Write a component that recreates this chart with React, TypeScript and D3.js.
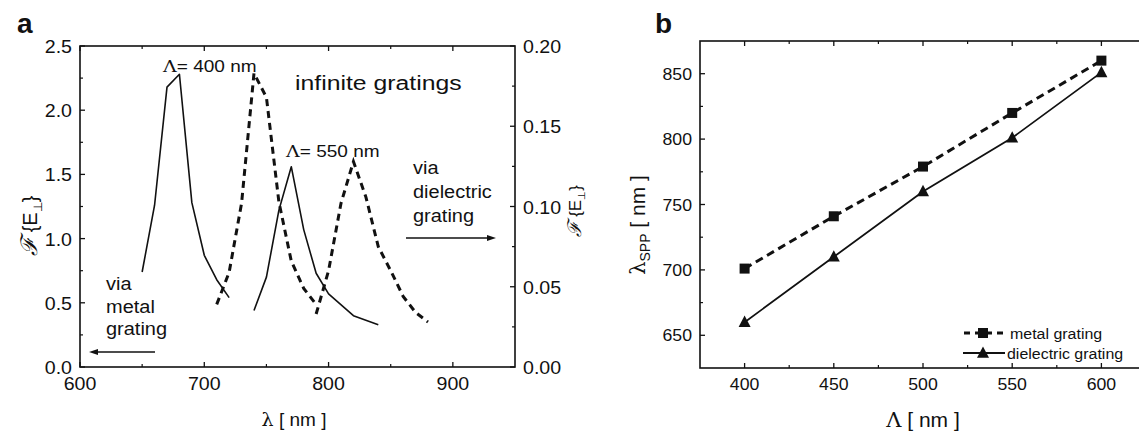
import React from "react";
import * as d3 from "d3";

// panel a: field enhancement spectra (wavelength in nm)
const metal400X = [650, 660, 670, 680, 690, 700, 710, 720];
const metal400Y = [0.74, 1.26, 2.18, 2.28, 1.28, 0.87, 0.68, 0.54];
const metal550X = [740, 750, 760, 770, 780, 790, 800, 820, 840];
const metal550Y = [0.44, 0.7, 1.22, 1.56, 1.07, 0.73, 0.57, 0.4, 0.33];
const diel400X = [710, 720, 730, 740, 750, 760, 770, 780, 790];
const diel400Y = [0.039, 0.059, 0.102, 0.183, 0.168, 0.103, 0.066, 0.049, 0.039];
const diel550X = [790, 800, 810, 820, 830, 840, 850, 860, 870, 880];
const diel550Y = [0.033, 0.06, 0.102, 0.128, 0.106, 0.075, 0.06, 0.044, 0.034, 0.028];

const aXTicks = [600, 700, 800, 900];
const aLeftTicks = [0, 0.5, 1, 1.5, 2, 2.5];
const aRightTicks = [0, 0.05, 0.1, 0.15, 0.2];

// panel b: SPP wavelength vs grating period
const periods = [400, 450, 500, 550, 600];
const metalSpp = [701, 741, 779, 820, 860];
const dielSpp = [660, 710, 760, 801, 851];
const bXTicks = [400, 450, 500, 550, 600];
const bYTicks = [650, 700, 750, 800, 850];

const FONT = "Liberation Sans, Arial, sans-serif";

function Txt({ x, y, size, anchor = "start", sx = 1, rotate = 0, weight = "normal", children }: any) {
  return (
    <text
      transform={`translate(${x},${y}) rotate(${rotate}) scale(${sx},1)`}
      fontSize={size}
      textAnchor={anchor}
      fontWeight={weight}
      fontFamily={FONT}
      fill="#111"
    >
      {children}
    </text>
  );
}

function Frame({ x0, x1, y0, y1 }: any) {
  return (
    <rect x={x0} y={y0} width={x1 - x0} height={y1 - y0} fill="none" stroke="#111" strokeWidth={1.6} />
  );
}

export default function App() {
  // ----- panel a -----
  const ax = d3.scaleLinear().domain([600, 950]).range([80, 515]);
  const ayL = d3.scaleLinear().domain([0, 2.5]).range([367, 46]);
  const ayR = d3.scaleLinear().domain([0, 0.2]).range([367, 46]);

  const pathOf = (xs: number[], ys: number[], yScale: any) =>
    d3
      .line<number>()
      .x((d) => ax(d))
      .y((d, i) => yScale(ys[i]))(xs) as string;

  const aMinorX = d3.range(650, 950, 100);
  const aMinorL = d3.range(0.25, 2.5, 0.5);
  const aMinorR = d3.range(0.025, 0.2, 0.05);

  // ----- panel b -----
  const bx = d3.scaleLinear().domain([375, 625]).range([700, 1146]);
  const by = d3.scaleLinear().domain([625, 875]).range([368, 41]);
  const bLine = (ys: number[]) =>
    d3
      .line<number>()
      .x((d) => bx(d))
      .y((d, i) => by(ys[i]))(periods) as string;
  const bMinorX = d3.range(425, 625, 50);
  const bMinorY = d3.range(675, 875, 50);

  const tri = (cx: number, cy: number, s: number) =>
    `M${cx},${cy - s * 0.55} L${cx + s / 2},${cy + s * 0.4} L${cx - s / 2},${cy + s * 0.4} Z`;

  const aTop = 46, aBot = 367, aL = 80, aR = 515;
  const bTop = 41, bBot = 368, bL = 700, bR = 1146;

  return (
    <svg width={1139} height={431} style={{ position: "absolute", left: 0, top: 0, background: "#fff" }}>
      <rect width={1139} height={431} fill="#fff" />
      {/* ================= panel a ================= */}
      <Txt x={17} y={33} size={28} weight="bold">a</Txt>
      <Frame x0={aL} x1={aR} y0={aTop} y1={aBot} />

      {/* x ticks bottom + top */}
      {aXTicks.map((t) => (
        <g key={"ax" + t}>
          <line x1={ax(t)} x2={ax(t)} y1={aBot} y2={aBot - 5} stroke="#111" strokeWidth={1.3} />
          <line x1={ax(t)} x2={ax(t)} y1={aTop} y2={aTop + 5} stroke="#111" strokeWidth={1.3} />
          <Txt x={ax(t)} y={390} size={18.5} anchor="middle" sx={1.06}>{t}</Txt>
        </g>
      ))}
      {aMinorX.map((t) => (
        <g key={"amx" + t}>
          <line x1={ax(t)} x2={ax(t)} y1={aBot} y2={aBot - 3} stroke="#111" strokeWidth={1.2} />
          <line x1={ax(t)} x2={ax(t)} y1={aTop} y2={aTop + 3} stroke="#111" strokeWidth={1.2} />
        </g>
      ))}
      {/* left axis */}
      {aLeftTicks.map((t) => (
        <g key={"al" + t}>
          <line x1={aL} x2={aL + 5} y1={ayL(t)} y2={ayL(t)} stroke="#111" strokeWidth={1.3} />
          <Txt x={72} y={ayL(t) + 7} size={18.5} anchor="end" sx={1.06}>{t.toFixed(1)}</Txt>
        </g>
      ))}
      {aMinorL.map((t) => (
        <line key={"aml" + t} x1={aL} x2={aL + 3} y1={ayL(t)} y2={ayL(t)} stroke="#111" strokeWidth={1.2} />
      ))}
      {/* right axis */}
      {aRightTicks.map((t) => (
        <g key={"ar" + t}>
          <line x1={aR} x2={aR - 5} y1={ayR(t)} y2={ayR(t)} stroke="#111" strokeWidth={1.3} />
          <Txt x={523} y={ayR(t) + 7} size={18.5} sx={1.06}>{t.toFixed(2)}</Txt>
        </g>
      ))}
      {aMinorR.map((t) => (
        <line key={"amr" + t} x1={aR} x2={aR - 3} y1={ayR(t)} y2={ayR(t)} stroke="#111" strokeWidth={1.2} />
      ))}

      {/* axis titles */}
      <Txt x={37} y={226} size={20} rotate={-90} anchor="middle">
        <tspan fontFamily="DejaVu Serif" fontStyle="italic" fontSize={23}>ℱ</tspan>
        <tspan dx={5}>{"{"}E</tspan>
        <tspan fontSize={12} dy={5}>⊥</tspan>
        <tspan dy={-5}>{"}"}</tspan>
      </Txt>
      <Txt x={581} y={211} size={17} rotate={-90} anchor="middle">
        <tspan fontFamily="DejaVu Serif" fontStyle="italic" fontSize={19}>ℱ</tspan>
        <tspan dx={4}>{"{"}E</tspan>
        <tspan fontSize={10} dy={4}>⊥</tspan>
        <tspan dy={-4}>{"}"}</tspan>
      </Txt>
      <Txt x={294} y={426} size={19} anchor="middle">
        <tspan fontFamily="DejaVu Serif">λ</tspan> [ nm ]
      </Txt>

      {/* curves */}
      <path d={pathOf(metal400X, metal400Y, ayL)} fill="none" stroke="#111" strokeWidth={1.6} strokeLinejoin="round" />
      <path d={pathOf(metal550X, metal550Y, ayL)} fill="none" stroke="#111" strokeWidth={1.6} strokeLinejoin="round" />
      <path d={pathOf(diel400X, diel400Y, ayR)} fill="none" stroke="#111" strokeWidth={3} strokeDasharray="7,5" />
      <path d={pathOf(diel550X, diel550Y, ayR)} fill="none" stroke="#111" strokeWidth={3} strokeDasharray="7,5" />

      {/* annotations */}
      <Txt x={163} y={72} size={17} sx={1.12}>
        <tspan fontFamily="DejaVu Serif">Λ</tspan>= 400 nm
      </Txt>
      <Txt x={286} y={157} size={17} sx={1.12}>
        <tspan fontFamily="DejaVu Serif">Λ</tspan>= 550 nm
      </Txt>
      <Txt x={295} y={90} size={21} sx={1.18}>infinite gratings</Txt>

      <Txt x={106} y={290} size={18.5} sx={1.08}>via</Txt>
      <Txt x={106} y={313} size={18.5} sx={1.08}>metal</Txt>
      <Txt x={106} y={335} size={18.5} sx={1.08}>grating</Txt>
      <line x1={155} x2={94} y1={352} y2={352} stroke="#111" strokeWidth={1.3} />
      <path d="M89,352 L98,349 L98,355 Z" fill="#111" />

      <Txt x={413} y={174} size={18.5} sx={1.08}>via</Txt>
      <Txt x={413} y={198} size={18.5} sx={1.08}>dielectric</Txt>
      <Txt x={413} y={222} size={18.5} sx={1.08}>grating</Txt>
      <line x1={406} x2={490} y1={238} y2={238} stroke="#111" strokeWidth={1.3} />
      <path d="M496,238 L487,235 L487,241 Z" fill="#111" />

      {/* ================= panel b ================= */}
      <Txt x={655} y={33} size={28} weight="bold">b</Txt>
      <Frame x0={bL} x1={bR} y0={bTop} y1={bBot} />
      {bXTicks.map((t) => (
        <g key={"bx" + t}>
          <line x1={bx(t)} x2={bx(t)} y1={bBot} y2={bBot - 5} stroke="#111" strokeWidth={1.3} />
          <line x1={bx(t)} x2={bx(t)} y1={bTop} y2={bTop + 5} stroke="#111" strokeWidth={1.3} />
          <Txt x={bx(t)} y={390} size={17} anchor="middle" sx={1.04}>{t}</Txt>
        </g>
      ))}
      {bMinorX.map((t) => (
        <g key={"bmx" + t}>
          <line x1={bx(t)} x2={bx(t)} y1={bBot} y2={bBot - 3} stroke="#111" strokeWidth={1.2} />
          <line x1={bx(t)} x2={bx(t)} y1={bTop} y2={bTop + 3} stroke="#111" strokeWidth={1.2} />
        </g>
      ))}
      {bYTicks.map((t) => (
        <g key={"by" + t}>
          <line x1={bL} x2={bL + 5} y1={by(t)} y2={by(t)} stroke="#111" strokeWidth={1.3} />
          <Txt x={692} y={by(t) + 6} size={17} anchor="end" sx={1.04}>{t}</Txt>
        </g>
      ))}
      {bMinorY.map((t) => (
        <line key={"bmy" + t} x1={bL} x2={bL + 3} y1={by(t)} y2={by(t)} stroke="#111" strokeWidth={1.2} />
      ))}

      <Txt x={645} y={225} size={21} rotate={-90} anchor="middle">
        <tspan fontFamily="DejaVu Serif">λ</tspan>
        <tspan fontSize={14} dy={5}>SPP</tspan>
        <tspan dy={-5}>{"\u00a0[ nm ]"}</tspan>
      </Txt>
      <Txt x={923} y={427} size={21} anchor="middle">
        <tspan fontFamily="DejaVu Serif">Λ</tspan> [ nm ]
      </Txt>

      <path d={bLine(metalSpp)} fill="none" stroke="#111" strokeWidth={3} strokeDasharray="8,5" />
      <path d={bLine(dielSpp)} fill="none" stroke="#111" strokeWidth={1.8} />
      {periods.map((p, i) => (
        <g key={"m" + p}>
          <rect x={bx(p) - 5} y={by(metalSpp[i]) - 5} width={10} height={10} fill="#111" />
          <path d={tri(bx(p), by(dielSpp[i]), 12)} fill="#111" />
        </g>
      ))}

      {/* legend */}
      <line x1={963} x2={1005} y1={333} y2={333} stroke="#111" strokeWidth={3} strokeDasharray="6,5" strokeDashoffset={-1} />
      <rect x={978} y={328} width={10} height={10} fill="#111" />
      <Txt x={1010} y={339} size={15.5} sx={1.03}>metal grating</Txt>
      <line x1={963} x2={1005} y1={353} y2={353} stroke="#111" strokeWidth={1.8} />
      <path d={tri(983, 353, 12)} fill="#111" />
      <Txt x={1007} y={359} size={15.5} sx={1.03}>dielectric grating</Txt>
    </svg>
  );
}
